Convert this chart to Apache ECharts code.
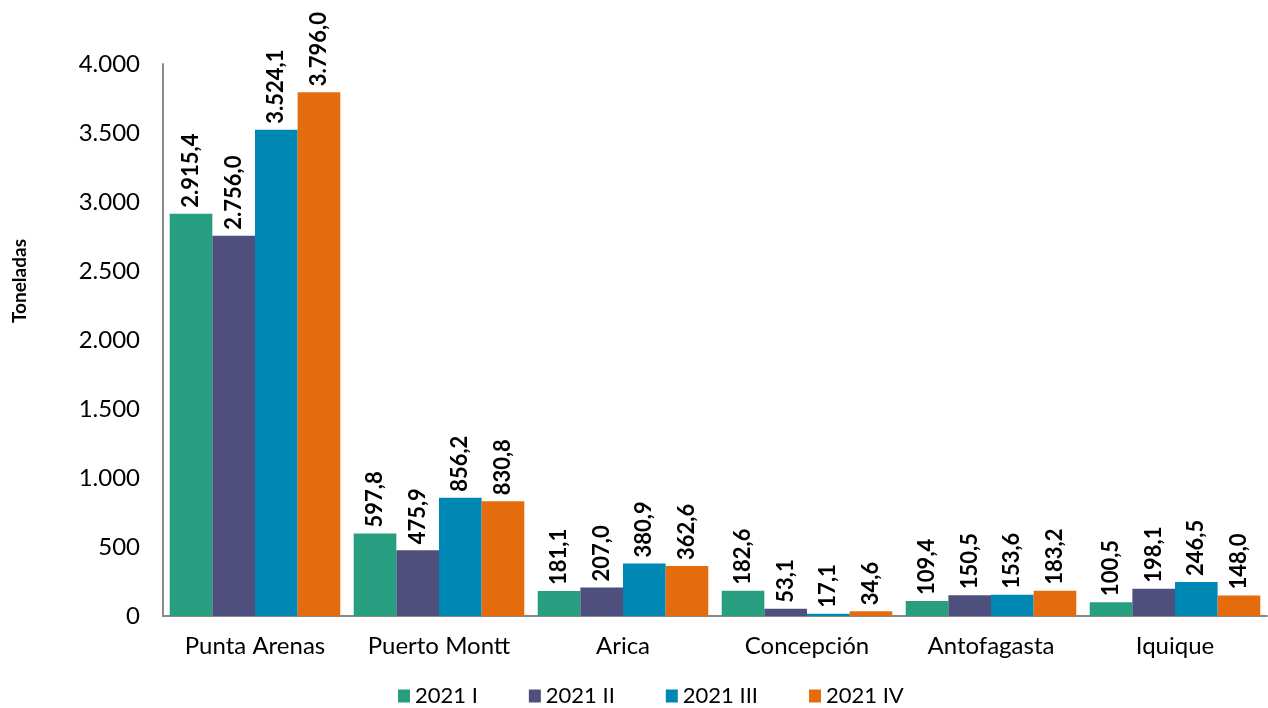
<!DOCTYPE html>
<html><head><meta charset="utf-8">
<script src="https://cdn.jsdelivr.net/npm/echarts@6/dist/echarts.min.js"></script>
<style>html,body{margin:0;padding:0;background:#fff}#c{width:1268px;height:708px}</style>
</head><body><div id="c"></div>
<script>
var categories = ['Punta Arenas','Puerto Montt','Arica','Concepción','Antofagasta','Iquique'];
var seriesNames = ['2021 I','2021 II','2021 III','2021 IV'];
var s2021I   = [2915.4, 597.8, 181.1, 182.6, 109.4, 100.5];
var s2021II  = [2756.0, 475.9, 207.0, 53.1, 150.5, 198.1];
var s2021III = [3524.1, 856.2, 380.9, 17.1, 153.6, 246.5];
var s2021IV  = [3796.0, 830.8, 362.6, 34.6, 183.2, 148.0];
var colors = ['#279E80','#4E4F7D','#0088B4','#E46C0C'];
var FONT = 'Lato';

function fmt(v, dec){
  var s = v.toFixed(dec);
  var parts = s.split('.');
  var ip = parts[0].replace(/\B(?=(\d{3})+(?!\d))/g, '.');
  return dec ? ip + ',' + parts[1] : ip;
}

var data = [s2021I, s2021II, s2021III, s2021IV];
var chart = echarts.init(document.getElementById('c'));
chart.setOption({
  animation: false,
  textStyle: {fontFamily: FONT},
  grid: {left: 163, right: 1, top: 64, bottom: 92, containLabel: false},
  legend: {
    left: 393, top: 680, itemWidth: 12, itemHeight: 13, itemGap: 51,
    icon: 'rect',
    textStyle: {fontFamily: FONT, fontSize: 22, color: '#000'},
    data: seriesNames
  },
  graphic: [{
    type: 'text', rotation: Math.PI/2,
    x: 20, y: 281,
    style: {text: 'Toneladas', font: 'bold 19px ' + FONT, fill: '#000', align: 'center', verticalAlign: 'middle'}
  }],
  xAxis: {
    type: 'category', data: categories,
    axisLine: {lineStyle: {color: '#898989', width: 2}},
    axisTick: {show: false},
    axisLabel: {fontFamily: FONT, fontSize: 24, color: '#000', margin: 18, interval: 0}
  },
  yAxis: {
    type: 'value', min: 0, max: 4000, interval: 500,
    axisLine: {show: true, lineStyle: {color: '#898989', width: 2}},
    axisTick: {show: false},
    splitLine: {show: false},
    axisLabel: {fontFamily: FONT, fontSize: 24, color: '#000', margin: 23, formatter: function(v){return fmt(v,0);}}
  },
  series: data.map(function(d, i){
    return {
      name: seriesNames[i], type: 'bar', data: d,
      barGap: '0%', barCategoryGap: '7.3%',
      itemStyle: {color: colors[i]},
      label: {
        show: true, position: 'top', rotate: 90, align: 'left', verticalAlign: 'middle', distance: 6,
        fontFamily: FONT, fontWeight: 'bold', fontSize: 22, color: '#000',
        formatter: function(p){return fmt(p.value,1);}
      }
    };
  })
});
</script></body></html>
